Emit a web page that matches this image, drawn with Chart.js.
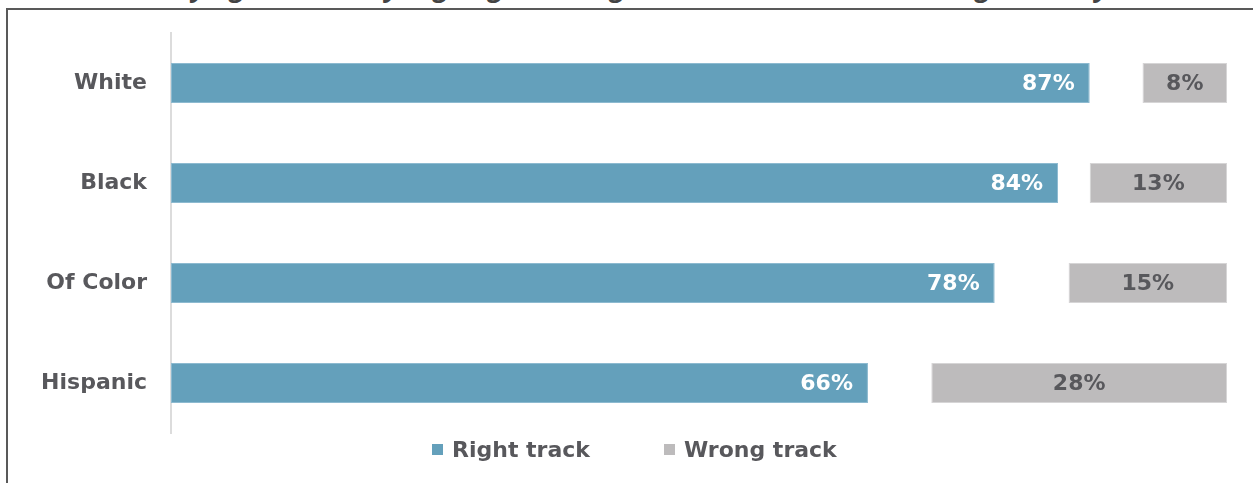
<!DOCTYPE html>
<html>
<head>
<meta charset="utf-8">
<script src="https://cdn.jsdelivr.net/npm/chart.js@4/dist/chart.umd.min.js"></script>
<style>
  html, body { margin: 0; padding: 0; background: #fff; overflow: hidden; }
  body { width: 1253px; height: 483px; position: relative; }
  #title { position: absolute; left: 0; width: 1253px; top: -28px; text-align: center;
           font: italic bold 27px "Open Sans", sans-serif; color: #444; white-space: nowrap; line-height: 30px; }
  #frame { position: absolute; left: 6px; top: 8px; width: 1400px; height: 600px;
           border-top: 2px solid #595959; border-left: 2px solid #595959; }
  #wrap { position: absolute; left: 0; top: 0; width: 1253px; height: 483px; }
  #legend { position: absolute; left: 432px; top: 437px; display: flex; align-items: center;
            font: bold 22px "DejaVu Sans", sans-serif; color: #58585c; }
  .item { display: flex; align-items: center; margin-right: 74px; }
  .box { width: 11px; height: 11px; margin-right: 9px; }
</style>
</head>
<body>
<div id="title">Those saying the country is going in the right direction vs. on the wrong track, by race</div>
<div id="frame"></div>
<div id="wrap"><canvas id="c" width="1253" height="483"></canvas></div>
<div id="legend"></div>
<script>
const categories = ["White", "Black", "Of Color", "Hispanic"];
const rightTrack = [87, 84, 78, 66];
const wrongTrack = [8, 13, 15, 28];
const seriesNames = ["Right track", "Wrong track"];
const seriesColors = ["#64a0bb", "#bdbbbc"];

const labelPlugin = {
  id: 'valueLabels',
  afterDatasetsDraw(chart) {
    const ctx = chart.ctx;
    ctx.save();
    ctx.font = 'bold 22px "DejaVu Sans", sans-serif';
    ctx.textBaseline = 'middle';
    chart.getDatasetMeta(0).data.forEach((bar, i) => {
      ctx.fillStyle = '#ffffff';
      ctx.textAlign = 'right';
      ctx.fillText(rightTrack[i] + '%', bar.x - 15, bar.y + 1);
    });
    chart.getDatasetMeta(1).data.forEach((bar, i) => {
      ctx.fillStyle = '#58585c';
      ctx.textAlign = 'center';
      ctx.fillText(wrongTrack[i] + '%', (bar.x + bar.base) / 2, bar.y + 1);
    });
    ctx.restore();
  }
};

new Chart(document.getElementById('c'), {
  type: 'bar',
  data: {
    labels: categories,
    datasets: [
      { label: seriesNames[0], data: rightTrack, backgroundColor: seriesColors[0],
        borderColor: '#8dbad0', borderWidth: 1, borderSkipped: false,
        barPercentage: 0.4, categoryPercentage: 1, grouped: false },
      { label: seriesNames[1], data: wrongTrack.map(w => [100 - w, 100]), backgroundColor: seriesColors[1],
        borderColor: '#d6d5d6', borderWidth: 1, borderSkipped: false,
        barPercentage: 0.4, categoryPercentage: 1, grouped: false }
    ]
  },
  options: {
    indexAxis: 'y',
    responsive: false,
    animation: false,
    layout: { autoPadding: false, padding: { top: 33, bottom: 50, right: 26, left: 0 } },
    plugins: { legend: { display: false }, tooltip: { enabled: false } },
    scales: {
      x: { display: false, min: 0, max: 100 },
      y: {
        afterFit(s) { s.width = 171; s.paddingTop = 0; s.paddingBottom = 0; },
        grid: { display: false, drawTicks: false },
        border: { display: true, color: '#dcdcdc', width: 2 },
        ticks: { padding: 24, color: '#58585c', font: { family: '"DejaVu Sans", sans-serif', size: 22, weight: 'bold' } }
      }
    }
  },
  plugins: [labelPlugin]
});

const legend = document.getElementById('legend');
seriesNames.forEach((n, i) => {
  const it = document.createElement('div');
  it.className = 'item';
  const b = document.createElement('span');
  b.className = 'box';
  b.style.background = seriesColors[i];
  const t = document.createElement('span');
  t.textContent = n;
  it.appendChild(b); it.appendChild(t);
  legend.appendChild(it);
});
</script>
</body>
</html>
